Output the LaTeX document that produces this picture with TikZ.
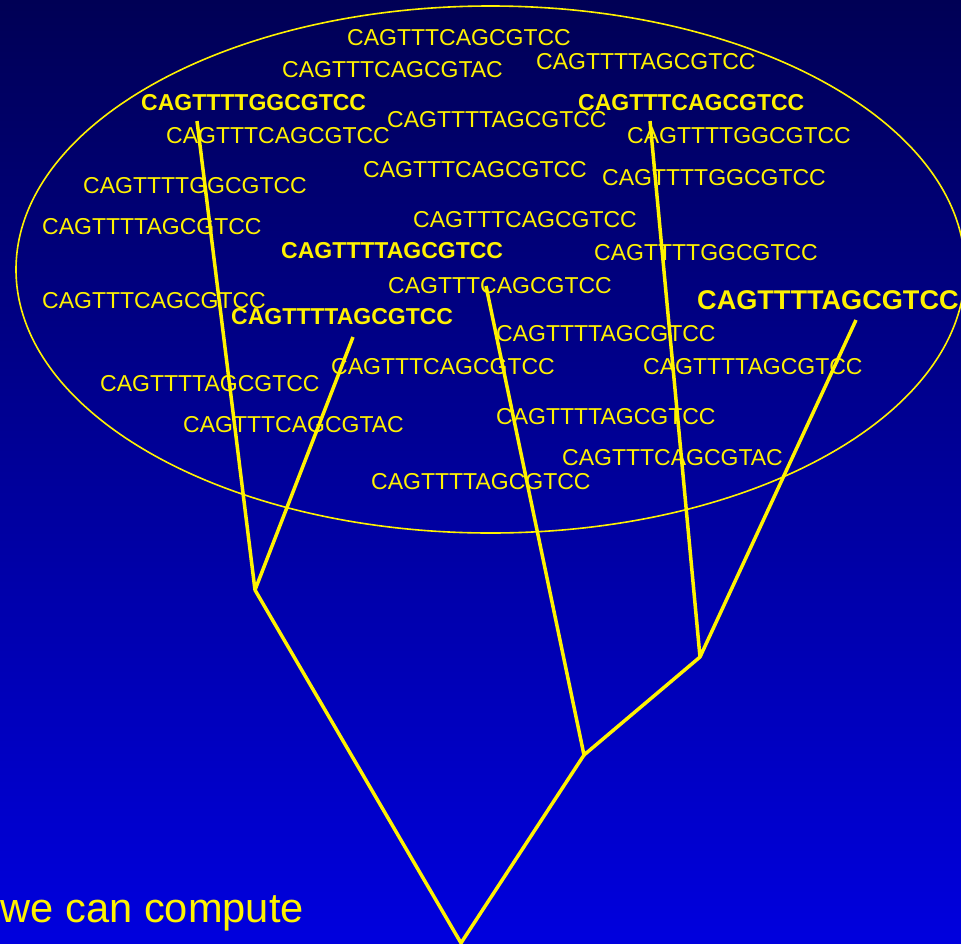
\documentclass[tikz,border=0pt]{standalone}
\usepackage{fontspec}
\setmainfont{Liberation Sans}
\usetikzlibrary{positioning}
\definecolor{bgtop}{RGB}{0,0,85}
\definecolor{bgbottom}{RGB}{0,0,222}

\begin{document}
\begin{tikzpicture}[
  x=1pt, y=-1pt,
  seq/.style={text=yellow, inner sep=0pt, anchor=base west, font=\fontsize{23}{26}\selectfont},
  boldseq/.style={seq, font=\fontsize{23}{26}\selectfont\bfseries},
  bigseq/.style={seq, font=\fontsize{27.1}{30}\selectfont\bfseries},
  branch/.style={draw=yellow, line width=3.5pt, line join=round},
  cloud/.style={draw=yellow, line width=1.6pt}]

\useasboundingbox (0,0) rectangle (961,943);
\shade[top color=bgtop, bottom color=bgbottom] (0,0) rectangle (961,943);

\node[seq] (s1) at (347,45) {CAGTTTCAGCGTCC};
\node[seq] (s2) at (282,77) {CAGTTTCAGCGTAC};
\node[seq] (s3) at (536,69) {CAGTTTTAGCGTCC};
\node[boldseq] (s4) at (141,110) {CAGTTTTGGCGTCC};
\node[seq] (s5) at (166,143) {CAGTTTCAGCGTCC};
\node[seq] (s6) at (387,127) {CAGTTTTAGCGTCC};
\node[boldseq] (s7) at (578,110) {CAGTTTCAGCGTCC};
\node[seq] (s8) at (627,143) {CAGTTTTGGCGTCC};
\node[seq] (s9) at (363,177) {CAGTTTCAGCGTCC};
\node[seq] (s10) at (83,193) {CAGTTTTGGCGTCC};
\node[seq] (s11) at (602,185) {CAGTTTTGGCGTCC};
\node[seq] (s12) at (42,234) {CAGTTTTAGCGTCC};
\node[seq] (s13) at (413,227) {CAGTTTCAGCGTCC};
\node[boldseq] (s14) at (281,258) {CAGTTTTAGCGTCC};
\node[seq] (s15) at (594,260) {CAGTTTTGGCGTCC};
\node[seq] (s16) at (42,308) {CAGTTTCAGCGTCC};
\node[seq] (s17) at (388,293) {CAGTTTCAGCGTCC};
\node[bigseq] (s18) at (697,309) {CAGTTTTAGCGTCC};
\node[boldseq] (s19) at (231,324) {CAGTTTTAGCGTCC};
\node[seq] (s20) at (496,341) {CAGTTTTAGCGTCC};
\node[seq] (s21) at (331,374) {CAGTTTCAGCGTCC};
\node[seq] (s22) at (643,374) {CAGTTTTAGCGTCC};
\node[seq] (s23) at (100,391) {CAGTTTTAGCGTCC};
\node[seq] (s24) at (183,432) {CAGTTTCAGCGTAC};
\node[seq] (s25) at (496,424) {CAGTTTTAGCGTCC};
\node[seq] (s26) at (562,465) {CAGTTTCAGCGTAC};
\node[seq] (s27) at (371,489) {CAGTTTTAGCGTCC};

\draw[cloud] (490.5,269.5) ellipse [x radius=474.5pt, y radius=263.5pt];

\coordinate (leaf1) at (197,121);
\coordinate (leaf2) at (353,337);
\coordinate (leaf3) at (486,286);
\coordinate (leaf4) at (650,121);
\coordinate (leaf5) at (856,320);
\coordinate (nodeA) at (255,590);
\coordinate (nodeB) at (584,755);
\coordinate (nodeC) at (700,657);
\coordinate (root) at (461,943);

\draw[branch] (leaf1) -- (nodeA) -- (leaf2);
\draw[branch] (leaf4) -- (nodeC) -- (leaf5);
\draw[branch] (leaf3) -- (nodeB) -- (nodeC);
\draw[branch] (nodeA) -- (root) -- (nodeB);

\node[text=yellow, inner sep=0pt, anchor=base east, font=\fontsize{41.6}{46}\selectfont] (caption) at (304,922) {we can compute};

\end{tikzpicture}
\end{document}
